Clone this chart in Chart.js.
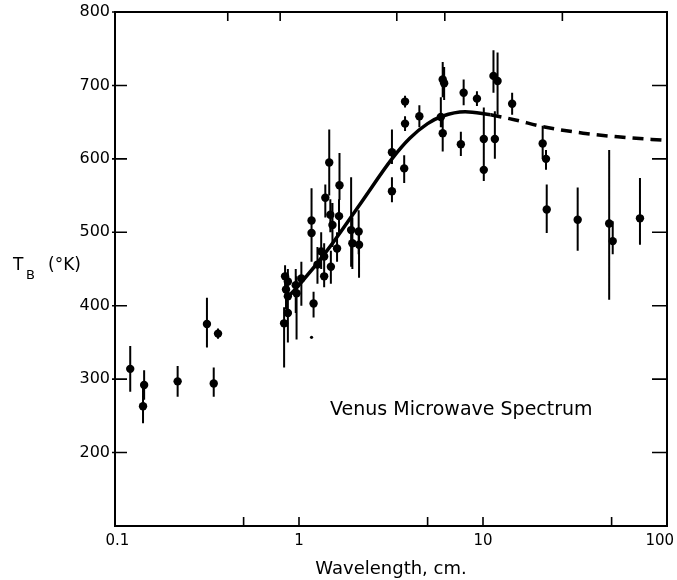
<!DOCTYPE html>
<html><head><meta charset="utf-8">
<script src="https://cdn.jsdelivr.net/npm/chart.js@4/dist/chart.umd.min.js"></script>
<style>html,body{margin:0;padding:0;background:#fff}#wrap{width:677px;height:580px}</style>
</head><body><div id="wrap"><canvas id="c" width="677" height="580"></canvas></div>
<script>
// ---- data ----
const wavelength = [0.121,0.144,0.142,0.219,0.344,0.316,0.363,
  0.83,0.87,0.87,0.85,0.87,0.84,0.96,0.97,1.03,1.20,1.17,1.17,1.26,1.32,1.37,1.37,1.39,1.46,1.48,1.49,1.52,1.61,1.65,1.66,1.92,1.95,2.11,2.12,
  3.2,3.2,3.73,3.77,3.77,4.51,5.9,6.04,6.15,6.04,7.58,7.85,9.27,10.1,10.1,11.4,12.0,11.6,14.4,
  21.1,22.0,22.2,32.7,48.5,50.7,71.3];
const brightnessTemp = [314,292,263,297,294,375,362,
  376,390,413,422,433,440,428,417,437,403,516,499,456,474,467,440,547,595,524,453,510,478,522,564,503,485,501,483,
  609,556,587,678,648,658,657,708,703,635,620,690,682,627,585,713,706,627,675,
  621,600,531,517,512,488,519];
const errorLow = [283,272,240,276,276,343,355,
  316,350,380,395,410,420,390,354,400,384,460,470,430,450,440,425,520,550,500,430,480,460,500,544,453,450,470,438,
  593,541,567,670,638,643,643,684,680,610,604,673,672,590,570,690,660,600,660,
  600,585,499,475,408,470,483];
const errorHigh = [345,312,290,318,316,411,369,
  398,420,440,445,450,455,450,440,460,419,560,520,480,500,485,460,565,640,545,475,540,500,545,608,575,520,530,505,
  640,575,605,686,658,673,684,732,725,655,637,708,692,670,610,748,745,665,690,
  645,612,565,561,612,515,574];
const faintDotX = [1.17], faintDotY = [357];
const curveSolidX = [0.88,1.0,1.43,2.17,3.2,4.0,5.0,6.0,8.0,11];
const curveSolidY = [413,428,476,540,600,628,648,658,664,660];
const curveDashX = [11,15,21,35,54,100];
const curveDashY = [660,653,644,635,630,625];
const xTickValues = [0.1,1,10,100];
const xTickLabels = [' 0.1','1','10','100   '];
const yTickValues = [200,300,400,500,600,700,800];
const bottomMinorTicks = [0.5,1,5,10,50];
const topMinorTicks = [0.41,0.79,3.4,6.2,27];

const FAM = '"DejaVu Sans", sans-serif';

const pts = wavelength.map((x,i)=>({x, y:brightnessTemp[i]}));
const bars = [];
wavelength.forEach((x,i)=>{ bars.push({x,y:errorLow[i]},{x,y:errorHigh[i]},{x,y:null}); });

const frame = {
  id:'frame',
  afterDatasetsDraw(chart){
    const {ctx, chartArea:a, scales:{x,y}} = chart;
    ctx.save();
    ctx.strokeStyle='#000';
    ctx.lineWidth=2;
    ctx.strokeRect(a.left,a.top,a.right-a.left,a.bottom-a.top);
    ctx.lineWidth=1.6;
    ctx.beginPath();
    yTickValues.forEach(v=>{
      const py=y.getPixelForValue(v);
      ctx.moveTo(a.left-3,py); ctx.lineTo(a.left+12,py);
      if (v<800){ ctx.moveTo(a.right-15,py); ctx.lineTo(a.right,py); }
    });
    bottomMinorTicks.forEach(v=>{ const px=x.getPixelForValue(v); ctx.moveTo(px,a.bottom); ctx.lineTo(px,a.bottom-9); });
    topMinorTicks.forEach(v=>{ const px=x.getPixelForValue(v); ctx.moveTo(px,a.top); ctx.lineTo(px,a.top+9); });
    ctx.stroke();
    // y axis label T_B (°K)
    ctx.fillStyle='#000';
    ctx.textBaseline='alphabetic';
    ctx.textAlign='left';
    ctx.font='17px '+FAM;
    ctx.fillText('T',13,270);
    ctx.font='13px '+FAM;
    ctx.fillText('B',26,279);
    ctx.font='17px '+FAM;
    ctx.fillText('(°K)',48,270);
    // annotation
    ctx.font='19px '+FAM;
    ctx.fillText('Venus Microwave Spectrum',330,415);
    ctx.restore();
  }
};

new Chart(document.getElementById('c'),{
  type:'scatter',
  data:{datasets:[
    {type:'line', data:bars, showLine:true, spanGaps:false, borderColor:'#000', borderWidth:2, pointRadius:0, order:3},
    {type:'line', data:curveSolidX.map((x,i)=>({x,y:curveSolidY[i]})), borderColor:'#000', borderWidth:3.5, pointRadius:0, cubicInterpolationMode:'monotone', order:2},
    {type:'line', data:curveDashX.map((x,i)=>({x,y:curveDashY[i]})), borderColor:'#000', borderWidth:3.5, borderDash:[11,7], pointRadius:0, cubicInterpolationMode:'monotone', order:2},
    {data:pts, backgroundColor:'#000', borderColor:'#000', pointRadius:4.2, borderWidth:0, order:1},
    {data:faintDotX.map((x,i)=>({x,y:faintDotY[i]})), backgroundColor:'#000', pointRadius:1.6, borderWidth:0, order:1}
  ]},
  options:{
    responsive:false, animation:false, devicePixelRatio:1,
    layout:{padding:{top:12,right:10,left:0,bottom:0}},
    plugins:{legend:{display:false}, tooltip:{enabled:false}},
    scales:{
      x:{type:'logarithmic', min:0.1, max:100, position:'bottom',
        grid:{display:false, drawTicks:false}, border:{display:false},
        afterBuildTicks:s=>{ s.ticks = xTickValues.map(v=>({value:v})); },
        ticks:{autoSkip:false, maxRotation:0, padding:6, color:'#000', font:{family:FAM,size:15},
          callback:(v,i)=>xTickLabels[i]},
        title:{display:true, text:'Wavelength, cm.', color:'#000', font:{family:FAM,size:18}, padding:{top:0,bottom:0}},
        afterFit:s=>{ s.height=54; s.paddingLeft=0; s.paddingRight=0; }
      },
      y:{min:100, max:800,
        grid:{display:false, drawTicks:false}, border:{display:false},
        afterBuildTicks:s=>{ s.ticks = yTickValues.map(v=>({value:v})); },
        ticks:{padding:5, color:'#000', font:{family:FAM,size:16}, callback:v=>String(v)},
        afterFit:s=>{ s.width=115; s.paddingTop=0; s.paddingBottom=0; }
      }
    }
  },
  plugins:[frame]
});
</script></body></html>
